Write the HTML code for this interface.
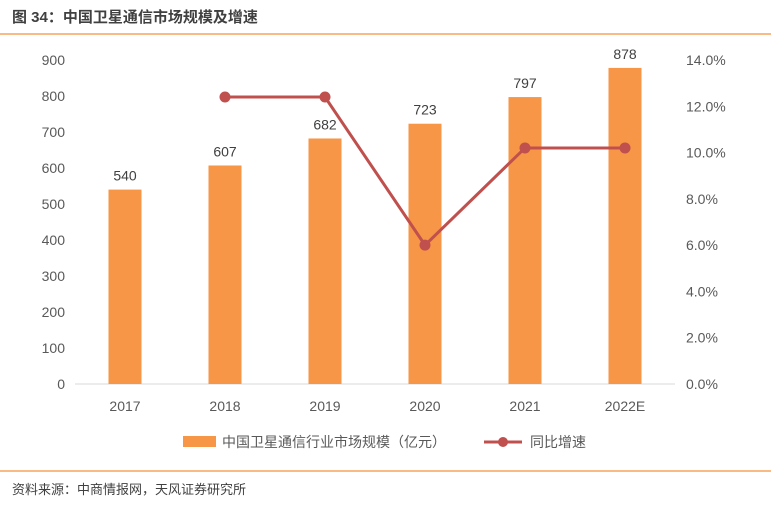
<!DOCTYPE html>
<html><head><meta charset="utf-8">
<style>
body{margin:0;background:#fff;width:771px;height:510px;overflow:hidden;font-family:"Liberation Sans","Noto Sans CJK SC",sans-serif;}
</style></head>
<body>
<svg width="771" height="510" xmlns="http://www.w3.org/2000/svg" font-family="Liberation Sans, Noto Sans CJK SC, sans-serif">
<text x="12" y="22" font-size="15" font-weight="bold" fill="#404040">图 34：中国卫星通信市场规模及增速</text>
<line x1="0" y1="34" x2="771" y2="34" stroke="#F7A35C" stroke-width="1.5"/>
<g id="chart"></g>
<g>
<rect x="183" y="436" width="33" height="11" fill="#F79646"/>
<text x="222" y="447" font-size="14" fill="#595959">中国卫星通信行业市场规模（亿元）</text>
<line x1="484" y1="442" x2="522" y2="442" stroke="#C0504D" stroke-width="3"/>
<circle cx="503" cy="442" r="5" fill="#C0504D"/>
<text x="530" y="447" font-size="14" fill="#595959">同比增速</text>
</g>
<line x1="0" y1="471" x2="771" y2="471" stroke="#F7A35C" stroke-width="1.5"/>
<text x="12" y="494" font-size="13" fill="#404040">资料来源：中商情报网，天风证券研究所</text>
</svg>
<script>
const categories=["2017","2018","2019","2020","2021","2022E"];
const marketSize=[540,607,682,723,797,878];
const growth=[null,12.4,12.4,6.0,10.2,10.2];
const leftTicks=[0,100,200,300,400,500,600,700,800,900];
const rightTicks=[0,2,4,6,8,10,12,14];
{
const NS="http://www.w3.org/2000/svg";
const g=document.getElementById('chart');
const plotTop=60,plotBottom=384;
const yL=v=>plotBottom-v/900*(plotBottom-plotTop);
const yR=v=>plotBottom-v/14*(plotBottom-plotTop);
const xC=i=>125+i*100;
function mk(t,a,txt){const e=document.createElementNS(NS,t);for(const k in a)e.setAttribute(k,a[k]);if(txt!==undefined)e.textContent=txt;g.appendChild(e);return e;}
leftTicks.forEach(v=>{const e=mk('text',{x:65,y:yL(v)+5,'font-size':14,fill:'#595959','text-anchor':'end'},v);

});
rightTicks.forEach(v=>{const e=mk('text',{x:686,y:yR(v)+5,'font-size':14,fill:'#595959'},v.toFixed(1)+'%');

});
const ax=mk('line',{x1:75,y1:plotBottom,x2:675,y2:plotBottom,stroke:'#D9D9D9'});


categories.forEach((c,i)=>{
const h=marketSize[i];
const r=mk('rect',{x:xC(i)-16.5,y:yL(h),width:33,height:plotBottom-yL(h),fill:'#F79646'});


const l=mk('text',{x:xC(i),y:yL(h)-9,'font-size':14,fill:'#404040','text-anchor':'middle'},h);


const t=mk('text',{x:xC(i),y:plotBottom+27,'font-size':14,fill:'#595959','text-anchor':'middle'},c);


});
const pts=[];growth.forEach((v,i)=>{if(v!==null)pts.push([xC(i),yR(v)]);});
const pl=mk('polyline',{points:pts.map(p=>p.join(',')).join(' '),fill:'none',stroke:'#C0504D','stroke-width':3});


pts.forEach(p=>{const c=mk('circle',{cx:p[0],cy:p[1],r:5.5,fill:'#C0504D'});

});
}
</script>
</body></html>
